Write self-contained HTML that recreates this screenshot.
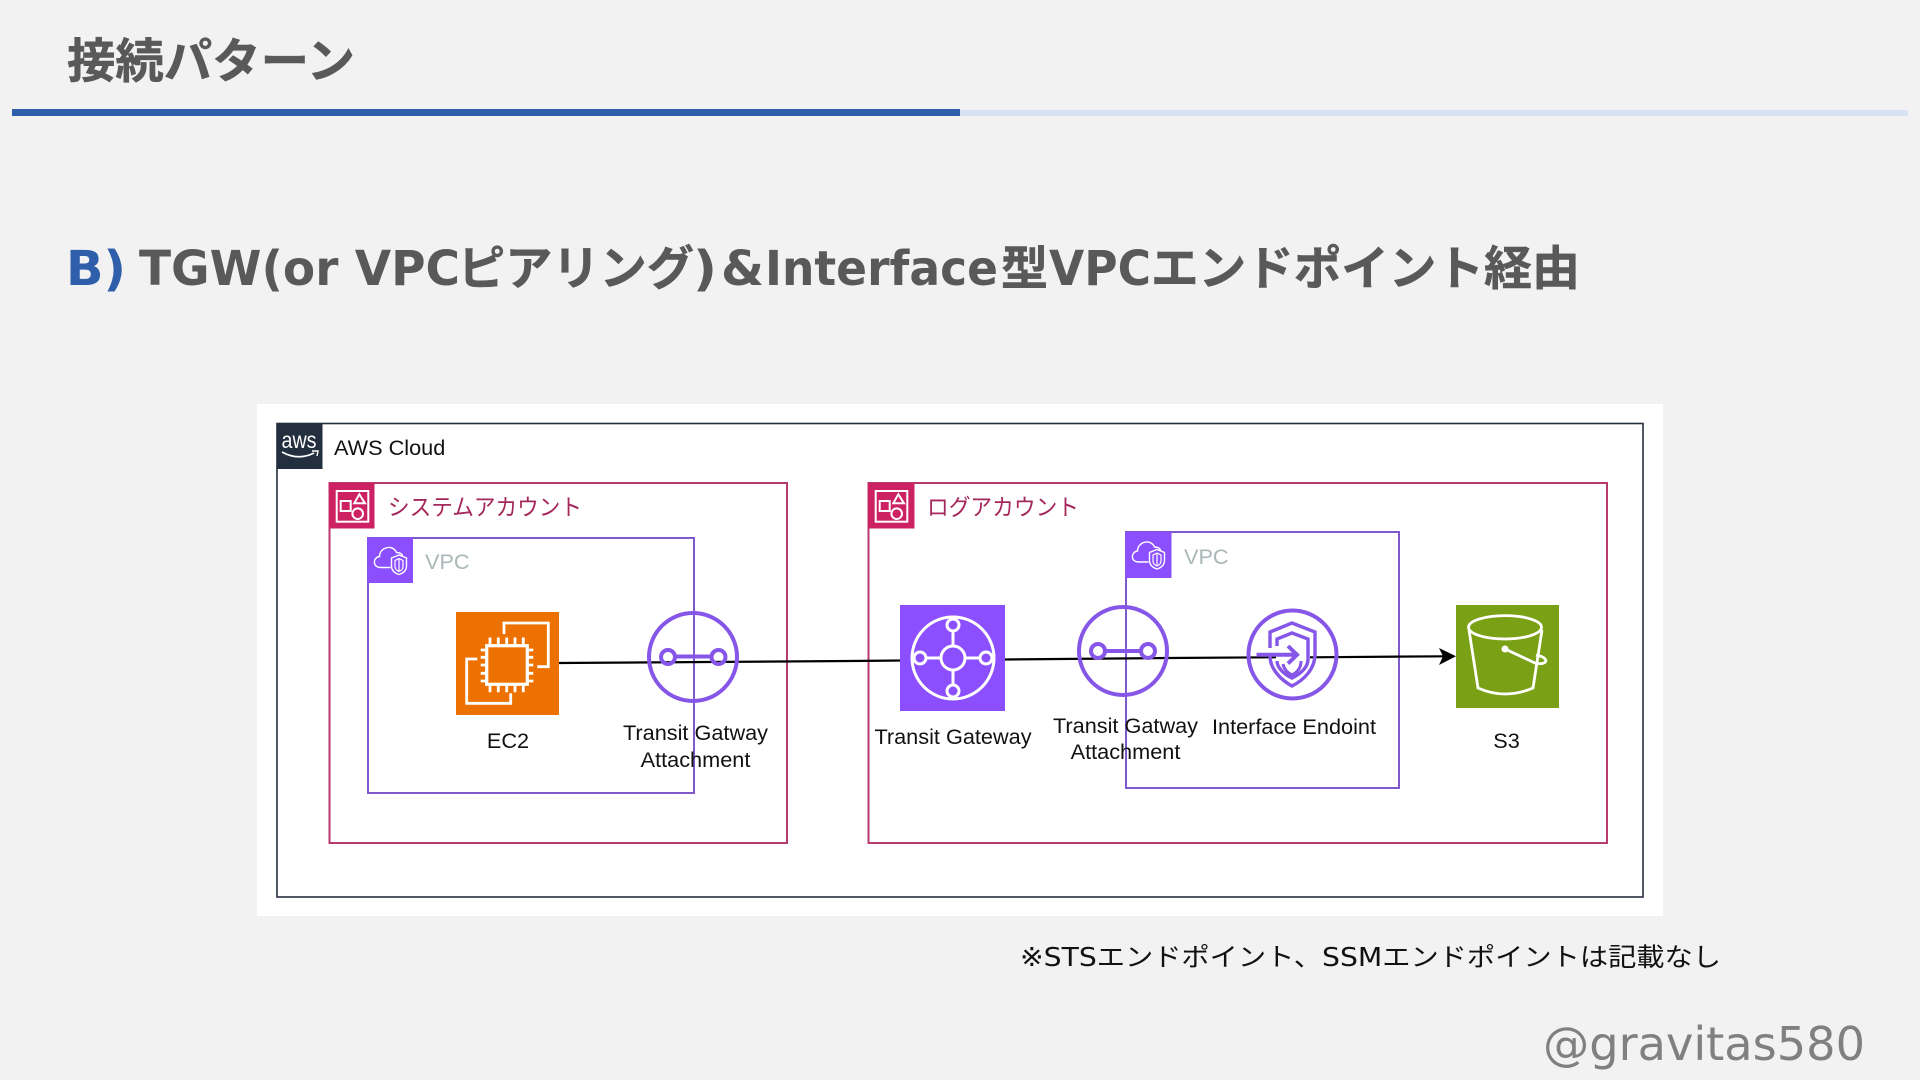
<!DOCTYPE html>
<html lang="ja"><head><meta charset="utf-8"><title>接続パターン</title>
<style>
html,body{margin:0;padding:0;background:#f2f2f2;width:1920px;height:1080px;overflow:hidden}
svg{display:block}
.j{font-family:"Noto Sans CJK JP",sans-serif;font-weight:700;font-size:47px;fill:#595959;stroke:#595959;stroke-width:.5}
.d{font-family:"DejaVu Sans",sans-serif;font-weight:700;font-size:48px;fill:#595959}
.l{font-family:"Liberation Sans",sans-serif;font-size:21.7px;fill:#111}
.c{text-anchor:middle}
.a{font-family:"Noto Sans CJK JP",sans-serif;font-size:23px;fill:#a5285c}
.v{font-family:"Liberation Sans",sans-serif;font-size:21.7px;fill:#aab7b8}
.w{fill:none;stroke:#fff;stroke-width:2}
.p{fill:none;stroke:#8556e8;stroke-width:4}
</style></head><body>
<svg width="1920" height="1080" viewBox="0 0 1920 1080" xmlns="http://www.w3.org/2000/svg">
<rect width="1920" height="1080" fill="#f2f2f2"/>
<text x="67" y="78" class="j" style="font-size:47.5px" textLength="288" lengthAdjust="spacingAndGlyphs">接続パターン</text>
<rect x="960" y="110" width="948" height="6" fill="#d9e2f3"/>
<rect x="12" y="109" width="948" height="7" fill="#2f5fab"/>

<text x="66" y="285" class="d" style="fill:#2f5fab" textLength="60" lengthAdjust="spacingAndGlyphs">B)</text>
<text x="139" y="285" class="d" textLength="321" lengthAdjust="spacingAndGlyphs">TGW(or VPC</text>
<text x="458" y="285" class="j" textLength="236" lengthAdjust="spacingAndGlyphs">ピアリング</text>
<text x="693" y="285" class="d" textLength="24" lengthAdjust="spacingAndGlyphs">)</text>
<text x="721" y="285" class="d" textLength="43" lengthAdjust="spacingAndGlyphs">&amp;</text>
<text x="765" y="285" class="d" textLength="233" lengthAdjust="spacingAndGlyphs">Interface</text>
<text x="1001" y="285" class="j">型</text>
<text x="1049" y="285" class="d" textLength="102" lengthAdjust="spacingAndGlyphs">VPC</text>
<text x="1151" y="285" class="j" textLength="333" lengthAdjust="spacingAndGlyphs">エンドポイント</text>
<text x="1484" y="285" class="j" textLength="96" lengthAdjust="spacingAndGlyphs">経由</text>

<rect x="257" y="404" width="1406" height="512" fill="#fff"/>
<rect x="277" y="423.500" width="1366" height="473.500" fill="none" stroke="#232f3e" stroke-width="1.600"/>
<rect x="276.500" y="423" width="46" height="46" fill="#232f3e"/>
<text x="281.500" y="448" font-family="Liberation Sans,sans-serif" font-size="23" fill="#fff" textLength="35" lengthAdjust="spacingAndGlyphs">aws</text>
<path d="M282 452q16 9 32 1" fill="none" stroke="#fff" stroke-width="1.800"/><path d="M312 451l6 0-1 5" fill="none" stroke="#fff" stroke-width="1.400"/>
<text x="334" y="455" class="l">AWS Cloud</text>

<rect x="329.500" y="483" width="457.500" height="360" fill="none" stroke="#b93a6e" stroke-width="2"/>
<g transform="translate(329,483)"><rect width="45.500" height="45.500" fill="#cc2264"/><rect x="7.700" y="8" width="31.600" height="30.700" class="w"/><rect x="11.700" y="18" width="10" height="10" class="w"/><path d="M30.300 11.300l-5 9h10.700z" class="w"/><circle cx="28.700" cy="30.700" r="5.300" class="w"/></g>
<text x="388" y="515" class="a" textLength="194" lengthAdjust="spacingAndGlyphs">システムアカウント</text>

<rect x="368" y="538" width="326" height="255" fill="none" stroke="#8059cc" stroke-width="2"/>
<g transform="translate(367.500,537.500)"><rect width="45.500" height="45.500" fill="#8c4fff"/><path d="M23 30H13c-8 0-8-10-1-11 0-9 13-13 17-4 3 0 6 1 6 4" class="w" style="stroke-width:1.400"/><path d="M31.500 17.500l7.500 3v8c0 4-3 7-7.500 8.500-4.500-1.500-7.500-4.500-7.500-8.500v-8z" class="w" style="stroke-width:1.400"/><path d="M31.500 21l4 2v6c0 3-2 4-4 5-2-1-4-2-4-5v-6zM31.500 21v13" class="w" style="stroke-width:1.200"/></g>
<text x="425" y="569" class="v">VPC</text>

<rect x="456" y="612" width="103" height="103" fill="#ed7100"/>
<g fill="none" stroke="#fff" stroke-width="2.800">
<path d="M504 634v-11h44.300v43.700h-11M477.300 659h-10.600v44.300h44v-10"/>
<rect x="486.700" y="645.700" width="40.600" height="38.600" stroke-width="3.200"/>
<path d="M490 637.500v8M498.300 637.500v8M506.700 637.500v8M515 637.500v8M523.300 637.500v8M490 684.300v8M498.300 684.300v8M506.700 684.300v8M515 684.300v8M523.300 684.300v8M480.700 650h6M480.700 657.300h6M480.700 665h6M480.700 673.300h6M480.700 681h6M527.300 650h6M527.300 657.300h6M527.300 665h6M527.300 673.300h6M527.300 681h6"/>
</g>
<text x="508" y="748" class="l c">EC2</text>

<rect x="868.500" y="483" width="738.500" height="360" fill="none" stroke="#b93a6e" stroke-width="2"/>
<g transform="translate(868,483)"><rect width="46.500" height="45.500" fill="#cc2264"/><rect x="7.700" y="8" width="31.600" height="30.700" class="w"/><rect x="11.700" y="18" width="10" height="10" class="w"/><path d="M30.300 11.300l-5 9h10.700z" class="w"/><circle cx="28.700" cy="30.700" r="5.300" class="w"/></g>
<text x="927" y="515" class="a" textLength="152" lengthAdjust="spacingAndGlyphs">ログアカウント</text>

<rect x="1126" y="532" width="273" height="256" fill="none" stroke="#8059cc" stroke-width="2"/>
<g transform="translate(1125.500,532)"><rect width="46" height="46" fill="#8c4fff"/><path d="M23 30H13c-8 0-8-10-1-11 0-9 13-13 17-4 3 0 6 1 6 4" class="w" style="stroke-width:1.400"/><path d="M31.500 17.500l7.500 3v8c0 4-3 7-7.500 8.500-4.500-1.500-7.500-4.500-7.500-8.500v-8z" class="w" style="stroke-width:1.400"/><path d="M31.500 21l4 2v6c0 3-2 4-4 5-2-1-4-2-4-5v-6zM31.500 21v13" class="w" style="stroke-width:1.200"/></g>
<text x="1184" y="564" class="v">VPC</text>

<path d="M559 663L850 661L1005 659.500L1168 658L1276 657.300M1310 657.300L1445 656.300" fill="none" stroke="#000" stroke-width="2.200"/>
<path d="M1456 656.300L1439 648L1443 656.300L1439 665z" fill="#000"/>

<g class="p"><circle cx="693" cy="657" r="44"/><circle cx="668" cy="657" r="7"/><circle cx="718.500" cy="657" r="7"/><path d="M675 656.500h36.500"/></g>

<rect x="900" y="605" width="105" height="106" fill="#8c4fff"/>
<g fill="none" stroke="#fff" stroke-width="3">
<circle cx="953" cy="658" r="41"/><circle cx="953" cy="658" r="12"/>
<circle cx="953" cy="625" r="6"/><circle cx="953" cy="691" r="6"/><circle cx="920" cy="658" r="6"/><circle cx="986" cy="658" r="6"/>
<path d="M953 631v15M953 670v15M926 658h15M965 658h15"/>
</g>
<text x="953" y="744" class="l c">Transit Gateway</text>

<g class="p"><circle cx="1123" cy="651" r="44"/><circle cx="1098" cy="651" r="7"/><circle cx="1148" cy="651" r="7"/><path d="M1105 651h36"/></g>
<g class="p"><circle cx="1292.500" cy="654.500" r="44"/>
<path d="M1270 648v-16l22-9 23 9v22c0 15-11 26-23 32-11-6-22-17-22-30" style="stroke-width:3.400"/>
<path d="M1277 646v-7l15-6 16 6v20c0 9-8 15-16 19-7-3-15-10-15-17" style="stroke-width:3.400"/>
<path d="M1283 664c1 6 5 9 9 11 4-2 9-6 9-14" style="stroke-width:3"/>
<path d="M1256.500 654.800h40M1288 646l9 8.800-9 8.800" style="stroke-width:4"/></g>

<text x="695.500" y="740" class="l c">Transit Gatway</text>
<text x="695.500" y="767" class="l c">Attachment</text>
<text x="1125.500" y="733" class="l c">Transit Gatway</text>
<text x="1125.500" y="759" class="l c">Attachment</text>
<text x="1294" y="734" class="l c">Interface Endoint</text>

<rect x="1456" y="605" width="103" height="103" fill="#7aa116"/>
<g fill="none" stroke="#fff" stroke-width="2.800">
<ellipse cx="1505" cy="627.300" rx="36.500" ry="11.700"/>
<path d="M1469 630l9 58q27 12 55 0l9-58"/>
<path d="M1505 649l30 14c8 2 13-1 10-4-2-3-6-3-9-4"/>
</g><circle cx="1505" cy="649" r="3.500" fill="#fff"/>
<text x="1506.500" y="748" class="l c">S3</text>

<text x="1020" y="966" font-family="DejaVu Sans,Noto Sans CJK JP,sans-serif" font-size="25.500" fill="#111" textLength="701" lengthAdjust="spacingAndGlyphs">※STSエンドポイント、SSMエンドポイントは記載なし</text>
<text x="1543" y="1060" font-family="DejaVu Sans,sans-serif" font-size="46" fill="#808080" textLength="322" lengthAdjust="spacingAndGlyphs">@gravitas580</text>
</svg>
</body></html>
